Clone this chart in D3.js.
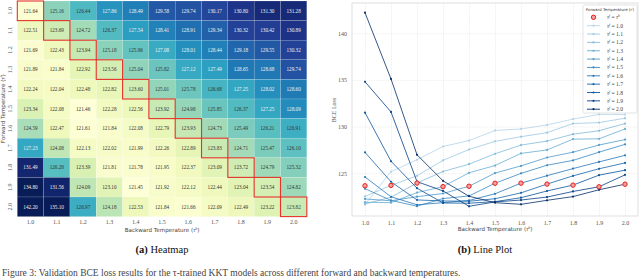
<!DOCTYPE html>
<html>
<head>
<meta charset="utf-8">
<script src="https://cdn.jsdelivr.net/npm/d3@7/dist/d3.min.js"></script>
<style>
  html, body { margin: 0; padding: 0; background: #fff; }
  svg { display: block; }
</style>
</head>
<body>
<svg id="fig" width="640" height="278"></svg>
<script>
// temperatures (rows = forward, columns = backward)
var temps = ["1.0", "1.1", "1.2", "1.3", "1.4", "1.5", "1.6", "1.7", "1.8", "1.9", "2.0"];

// BCE loss, one array per forward temperature
var loss_10 = [121.64, 125.16, 126.44, 127.86, 128.49, 129.58, 129.74, 130.17, 130.80, 131.30, 131.28];
var loss_11 = [122.51, 123.69, 124.72, 126.37, 127.54, 128.41, 128.91, 129.34, 130.32, 130.42, 130.89];
var loss_12 = [121.69, 122.43, 123.94, 125.18, 125.96, 127.08, 128.01, 128.44, 129.18, 129.55, 130.32];
var loss_13 = [121.89, 121.84, 122.92, 123.56, 125.04, 125.82, 127.12, 127.49, 128.65, 128.68, 129.74];
var loss_14 = [122.24, 122.04, 122.48, 122.82, 123.60, 125.01, 125.78, 126.68, 127.25, 128.02, 128.60];
var loss_15 = [123.34, 122.08, 121.46, 122.28, 122.56, 123.92, 124.98, 125.85, 126.37, 127.25, 128.09];
var loss_16 = [124.59, 122.47, 121.61, 121.84, 122.08, 122.79, 123.93, 124.73, 125.49, 126.21, 126.91];
var loss_17 = [127.23, 124.08, 122.13, 122.02, 121.99, 122.26, 122.89, 123.83, 124.71, 125.47, 126.10];
var loss_18 = [131.49, 126.28, 123.39, 121.81, 121.78, 121.95, 122.37, 123.09, 123.72, 124.79, 125.32];
var loss_19 = [134.80, 131.56, 124.09, 123.10, 121.45, 121.92, 122.12, 122.44, 123.04, 123.54, 124.82];
var loss_20 = [142.20, 135.10, 126.97, 124.18, 122.53, 121.84, 121.66, 122.09, 122.49, 123.22, 123.82];

var lossRows = [loss_10, loss_11, loss_12, loss_13, loss_14, loss_15, loss_16, loss_17, loss_18, loss_19, loss_20];

// red markers on the line plot (tau_f = tau_b)
var diagLoss = [123.65, 123.69, 123.94, 123.56, 123.60, 123.92, 123.93, 123.83, 123.72, 123.54, 123.82];

var yTicks = [125, 130, 135, 140];

var svg = d3.select("#fig");
var serif = "'Liberation Serif', 'DejaVu Serif', serif";

// ---------------- heatmap ----------------
var hm = {left: 17.3, right: 306.8, top: 1, bottom: 216.6};

var xHeat = d3.scaleBand().domain(temps).range([hm.left, hm.right]);
var yHeat = d3.scaleBand().domain(temps).range([hm.top, hm.bottom]);

var colorHeat = d3.scaleSequential(d3.interpolateYlGnBu).domain([121.4, 132]).clamp(true);

var cells = [];
lossRows.forEach(function(row, i){
  row.forEach(function(v, j){
    cells.push({f: temps[i], b: temps[j], v: v});
  });
});

var gHeat = svg.append("g");

gHeat.selectAll("rect.cell")
  .data(cells)
  .enter()
  .append("rect")
  .attr("class", "cell")
  .attr("x", function(d){ return xHeat(d.b); })
  .attr("y", function(d){ return yHeat(d.f); })
  .attr("width", xHeat.bandwidth())
  .attr("height", yHeat.bandwidth())
  .attr("fill", function(d){ return colorHeat(d.v); })
  .attr("stroke", "#ffffff")
  .attr("stroke-opacity", 0.35)
  .attr("stroke-width", 0.4);

gHeat.selectAll("text.val")
  .data(cells)
  .enter()
  .append("text")
  .attr("class", "val")
  .attr("x", function(d){ return xHeat(d.b) + xHeat.bandwidth()/2; })
  .attr("y", function(d){ return yHeat(d.f) + yHeat.bandwidth()/2 + 1.8; })
  .attr("text-anchor", "middle")
  .attr("font-family", serif)
  .attr("font-size", "5.2px")
  .attr("fill", function(d){
    var c = d3.rgb(colorHeat(d.v));
    var lum = (0.299*c.r + 0.587*c.g + 0.114*c.b)/255;
    return lum < 0.55 ? "#f2f2f2" : "#333";
  })
  .text(function(d){ return d.v.toFixed(2); });

// diagonal outline
gHeat.selectAll("rect.diag")
  .data(temps)
  .enter()
  .append("rect")
  .attr("class", "diag")
  .attr("x", function(d){ return xHeat(d); })
  .attr("y", function(d){ return yHeat(d); })
  .attr("width", xHeat.bandwidth())
  .attr("height", yHeat.bandwidth())
  .attr("fill", "none")
  .attr("stroke", "#e5332a")
  .attr("stroke-width", 1.1);

// heatmap tick labels
gHeat.selectAll("text.xt")
  .data(temps)
  .enter()
  .append("text")
  .attr("class", "xt")
  .attr("x", function(d){ return xHeat(d) + xHeat.bandwidth()/2; })
  .attr("y", 224)
  .attr("text-anchor", "middle")
  .attr("font-family", serif)
  .attr("font-size", "6px")
  .attr("fill", "#555")
  .text(function(d){ return d; });

gHeat.selectAll("text.yt")
  .data(temps)
  .enter()
  .append("text")
  .attr("class", "yt")
  .attr("transform", function(d){
    return "translate(12," + (yHeat(d) + yHeat.bandwidth()/2) + ") rotate(-90)";
  })
  .attr("text-anchor", "middle")
  .attr("font-family", serif)
  .attr("font-size", "6px")
  .attr("fill", "#555")
  .text(function(d){ return d; });

var xLab = gHeat.append("text")
  .attr("x", (hm.left + hm.right)/2)
  .attr("y", 232)
  .attr("text-anchor", "middle")
  .attr("font-family", "'DejaVu Sans', sans-serif")
  .attr("font-size", "5.6px")
  .attr("fill", "#444");
xLab.append("tspan").text("Backward Temperature (");
xLab.append("tspan").attr("font-family", serif).attr("font-style", "italic").text("τ");
xLab.append("tspan").attr("font-family", serif).attr("font-style", "italic").attr("dy", -2).attr("font-size", "4px").text("b");
xLab.append("tspan").attr("dy", 2).text(")");

var yLab = gHeat.append("text")
  .attr("transform", "translate(5," + ((hm.top + hm.bottom)/2) + ") rotate(-90)")
  .attr("text-anchor", "middle")
  .attr("font-family", "'DejaVu Sans', sans-serif")
  .attr("font-size", "5.6px")
  .attr("fill", "#444");
yLab.append("tspan").text("Forward Temperature (");
yLab.append("tspan").attr("font-family", serif).attr("font-style", "italic").text("τ");
yLab.append("tspan").attr("font-family", serif).attr("font-style", "italic").attr("dy", -2).attr("font-size", "4px").text("f");
yLab.append("tspan").attr("dy", 2).text(")");

// ---------------- line plot ----------------
var lp = {left: 352, right: 638, top: 3, bottom: 216};

var xLine = d3.scaleLinear().domain([0.95, 2.05]).range([lp.left, lp.right]);
var yLine = d3.scaleLinear().domain([120.41, 143.24]).range([lp.bottom, lp.top]);

var gLine = svg.append("g");

var xAxisLine = d3.axisBottom(xLine)
  .tickValues(temps.map(Number))
  .tickFormat(d3.format(".1f"))
  .tickSize(-(lp.bottom - lp.top))
  .tickPadding(5);

var yAxisLine = d3.axisLeft(yLine)
  .tickValues(yTicks)
  .tickSize(-(lp.right - lp.left))
  .tickPadding(5);

gLine.append("rect")
  .attr("x", lp.left)
  .attr("y", lp.top)
  .attr("width", lp.right - lp.left)
  .attr("height", lp.bottom - lp.top)
  .attr("fill", "#fff")
  .attr("stroke", "#d6d6d6")
  .attr("stroke-width", 0.8);

gLine.append("g")
  .attr("transform", "translate(0," + lp.bottom + ")")
  .call(xAxisLine)
  .call(function(g){
    g.select(".domain").remove();
    g.selectAll(".tick line").attr("stroke", "#d9d9d9").attr("stroke-width", 0.5).attr("stroke-dasharray", "1.2,1.2");
    g.selectAll(".tick text").attr("font-family", serif).attr("font-size", "6px").attr("fill", "#555");
  });

gLine.append("g")
  .attr("transform", "translate(" + lp.left + ",0)")
  .call(yAxisLine)
  .call(function(g){
    g.select(".domain").remove();
    g.selectAll(".tick line").attr("stroke", "#d9d9d9").attr("stroke-width", 0.5).attr("stroke-dasharray", "1.2,1.2");
    g.selectAll(".tick text").attr("font-family", serif).attr("font-size", "6px").attr("fill", "#555");
  });

var lineColor = function(i){ return d3.interpolateBlues(0.3 + 0.7 * i / (temps.length - 1)); };

var line = d3.line()
  .x(function(d, j){ return xLine(+temps[j]); })
  .y(function(d){ return yLine(d); });

lossRows.forEach(function(row, i){
  gLine.append("path")
    .datum(row)
    .attr("d", line)
    .attr("fill", "none")
    .attr("stroke", lineColor(i))
    .attr("stroke-opacity", 0.9)
    .attr("stroke-width", 0.9);

  gLine.selectAll(null)
    .data(row)
    .enter()
    .append("circle")
    .attr("cx", function(d, j){ return xLine(+temps[j]); })
    .attr("cy", function(d){ return yLine(d); })
    .attr("r", 1.1)
    .attr("fill", lineColor(i));
});

gLine.selectAll("circle.diag")
  .data(diagLoss)
  .enter()
  .append("circle")
  .attr("class", "diag")
  .attr("cx", function(d, j){ return xLine(+temps[j]); })
  .attr("cy", function(d){ return yLine(d); })
  .attr("r", 2.2)
  .attr("fill", "#f4a0a0")
  .attr("stroke", "#e8201a")
  .attr("stroke-width", 1);

var bx = gLine.append("text")
  .attr("x", (lp.left + lp.right)/2)
  .attr("y", 231)
  .attr("text-anchor", "middle")
  .attr("font-family", "'DejaVu Sans', sans-serif")
  .attr("font-size", "5.6px")
  .attr("fill", "#444");
bx.append("tspan").text("Backward Temperature (");
bx.append("tspan").attr("font-family", serif).attr("font-style", "italic").text("τ");
bx.append("tspan").attr("font-family", serif).attr("font-style", "italic").attr("dy", -2).attr("font-size", "4px").text("b");
bx.append("tspan").attr("dy", 2).text(")");

gLine.append("text")
  .attr("transform", "translate(336,110) rotate(-90)")
  .attr("text-anchor", "middle")
  .attr("font-family", serif)
  .attr("font-size", "6px")
  .attr("fill", "#555")
  .text("BCE Loss");

// legend
var lg = gLine.append("g").attr("transform", "translate(583,5)");

lg.append("rect")
  .attr("width", 54)
  .attr("height", 108)
  .attr("rx", 1.5)
  .attr("fill", "#fff")
  .attr("fill-opacity", 0.85)
  .attr("stroke", "#d0d0d0")
  .attr("stroke-width", 0.6);

var lt = lg.append("text")
  .attr("x", 27)
  .attr("y", 5.5)
  .attr("text-anchor", "middle")
  .attr("font-family", "'DejaVu Sans', sans-serif")
  .attr("font-size", "3.9px")
  .attr("fill", "#333");
lt.append("tspan").text("Forward Temperature (");
lt.append("tspan").attr("font-style", "italic").attr("font-family", serif).text("τ");
lt.append("tspan").attr("font-style", "italic").attr("font-family", serif).attr("dy", -1.3).attr("font-size", "2.8px").text("f");
lt.append("tspan").attr("dy", 1.3).text(")");

lg.append("circle")
  .attr("cx", 10.5)
  .attr("cy", 12.3)
  .attr("r", 2.2)
  .attr("fill", "#f4a0a0")
  .attr("stroke", "#e8201a")
  .attr("stroke-width", 1);

function tauLabel(sel, rhs, isTau){
  var t = sel.append("text")
    .attr("x", 24)
    .attr("font-family", serif)
    .attr("font-size", "5.6px")
    .attr("fill", "#444");
  t.append("tspan").attr("font-style", "italic").text("τ");
  t.append("tspan").attr("font-style", "italic").attr("dy", -2).attr("font-size", "3.8px").text("f");
  t.append("tspan").attr("dy", 2).text(" = ");
  if (isTau){
    t.append("tspan").attr("font-style", "italic").text("τ");
    t.append("tspan").attr("font-style", "italic").attr("dy", -2).attr("font-size", "3.8px").text("b");
  } else {
    t.append("tspan").text(rhs);
  }
  return t;
}

tauLabel(lg, "", true).attr("y", 14.3);

temps.forEach(function(tv, i){
  var yy = 20.7 + i * 8.35;
  lg.append("line")
    .attr("x1", 4).attr("x2", 17)
    .attr("y1", yy).attr("y2", yy)
    .attr("stroke", lineColor(i))
    .attr("stroke-width", 0.9);
  lg.append("circle")
    .attr("cx", 10.5).attr("cy", yy)
    .attr("r", 1.1)
    .attr("fill", lineColor(i));
  tauLabel(lg, tv, false).attr("y", yy + 2);
});

// ---------------- captions ----------------
function caption(x, letter, rest){
  var c = svg.append("text")
    .attr("x", x)
    .attr("y", 253)
    .attr("text-anchor", "middle")
    .attr("font-family", serif)
    .attr("font-size", "10.5px")
    .attr("fill", "#111");
  c.append("tspan").attr("font-weight", "bold").text("(" + letter + ")");
  c.append("tspan").text(" " + rest);
}
caption(162, "a", "Heatmap");
caption(485, "b", "Line Plot");

svg.append("text")
  .attr("x", 2)
  .attr("y", 275.5)
  .attr("font-family", serif)
  .attr("font-size", "9.5px")
  .attr("fill", "#444")
  .text("Figure 3: Validation BCE loss results for the τ-trained KKT models across different forward and backward temperatures.");
</script>
</body>
</html>
